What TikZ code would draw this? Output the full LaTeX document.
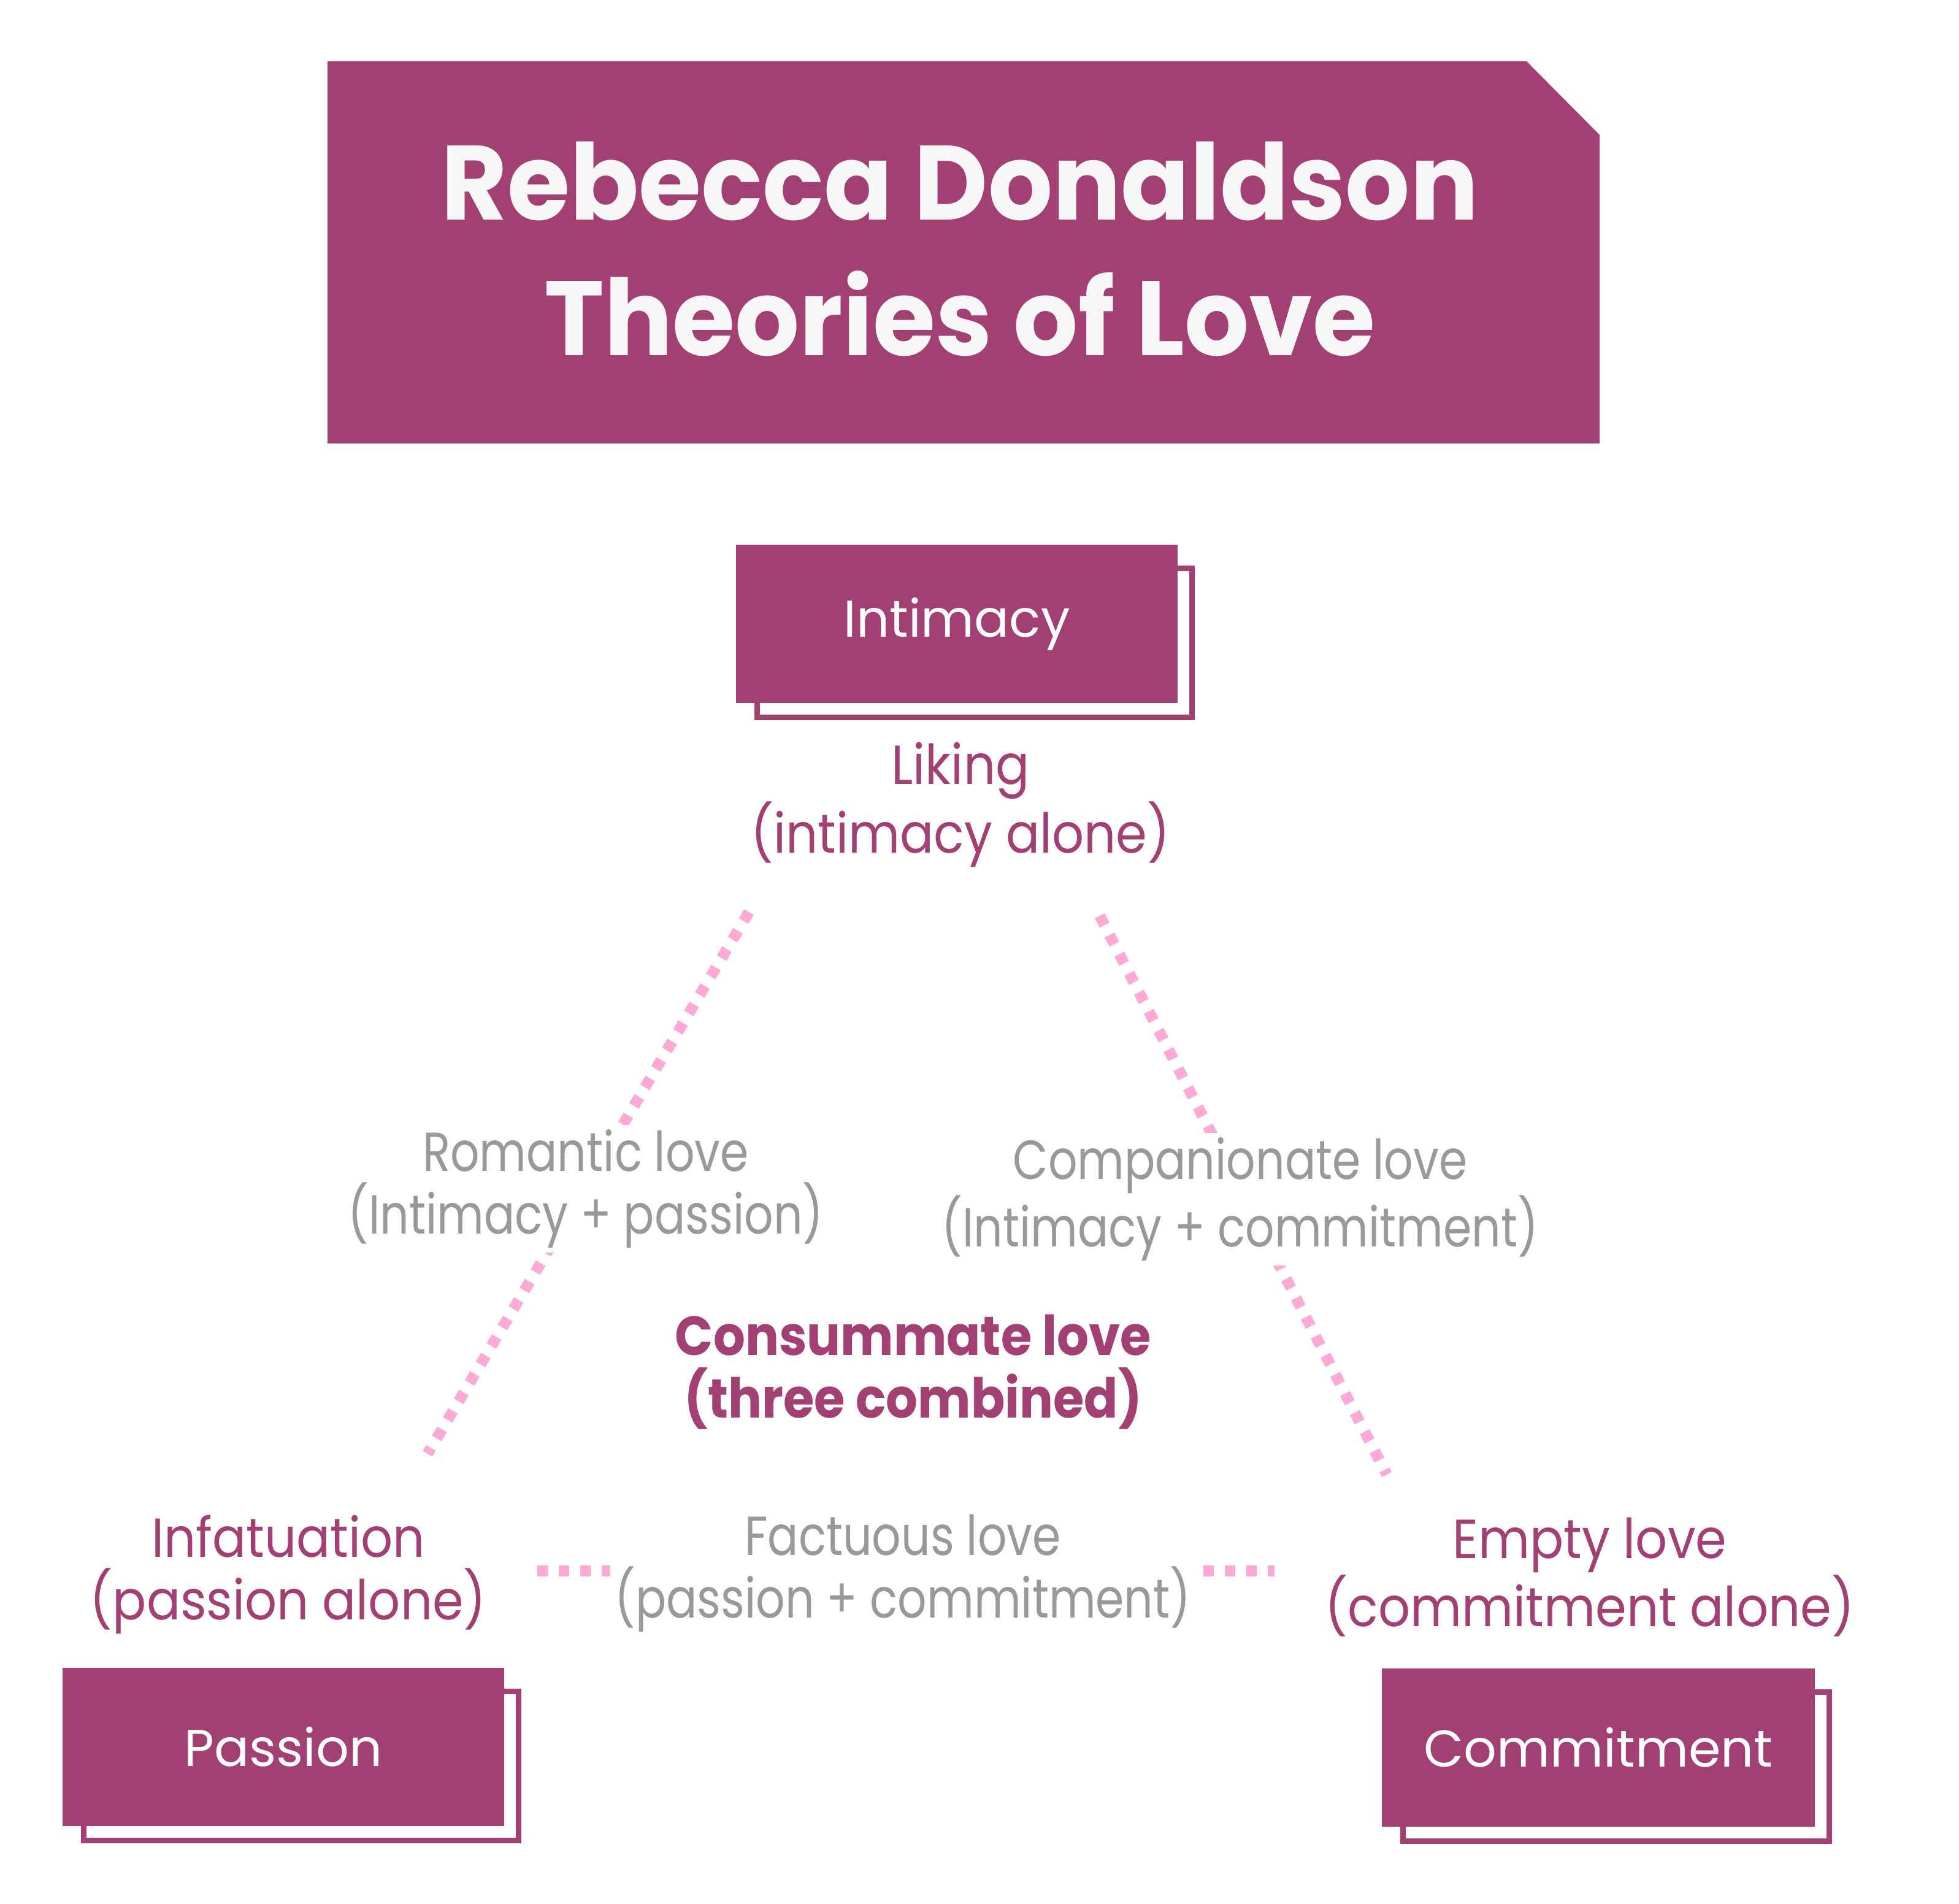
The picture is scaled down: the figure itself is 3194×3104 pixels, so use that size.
\documentclass[tikz,border=0pt]{standalone}
\usepackage{fontspec}
\setmainfont{Poppins}
\newfontfamily\headfamily[FakeStretch=0.96]{Poppins}
\newfontfamily\plumfamily[FakeStretch=0.91]{Poppins}
\newfontfamily\grayfamily[FakeStretch=0.83]{Poppins}
\definecolor{plum}{HTML}{A34073}
\definecolor{dotpink}{HTML}{FFAAD6}
\definecolor{mixgray}{HTML}{999999}
\definecolor{offwhite}{HTML}{F7F7F7}
\newcommand\headfont{\headfamily\bfseries\fontsize{49}{63}\selectfont}
\newcommand\tagfont{\fontsize{24}{28}\selectfont}
\newcommand\lovefont{\plumfamily\fontsize{25.5}{29}\selectfont}
\newcommand\mixfont{\grayfamily\fontsize{25.5}{29}\selectfont}
\tikzset{
  corebox/.style={fill=plum, text=white, font=\tagfont, minimum width=7.19cm, minimum height=2.57cm},
  backbox/.style={draw=plum, fill=white, line width=0.09cm, minimum width=7.08cm, minimum height=2.43cm},
  lovetype/.style={text=plum, align=center, font=\lovefont},
  mixtype/.style={text=mixgray, align=center, font=\mixfont, fill=white, inner sep=0.07cm},
  dots/.style={dotpink, line width=0.18cm, dash pattern=on 0.17cm off 0.18cm}
}
\begin{document}
\begin{tikzpicture}[x=0.01cm, y=-0.01cm]
    \tikzstyle{every node}+=[inner sep=0pt]
    \useasboundingbox (0,0) rectangle (3194,3104);
    % banner
    \fill [plum] (534,100) -- (2489,100) -- (2608,220) -- (2608,723) -- (534,723) -- cycle;
    \node (title) at (1565,406) [text=offwhite, font=\headfont, align=center] {Rebecca Donaldson\\Theories of Love};
    % the three components
    \node (intimacy back) at (1589,1048) [backbox] {};
    \node (intimacy) at (1560,1017) [corebox] {Intimacy};
    \node (passion back) at (491,2879) [backbox] {};
    \node (passion) at (462,2848) [corebox] {Passion};
    \node (commitment back) at (2635,2880) [backbox, minimum width=6.94cm] {};
    \node (commitment) at (2606,2849) [corebox, minimum width=7.05cm] {Commitment};
    % kinds of love
    \node (liking) at (1566,1312) [lovetype] {Liking\\(intimacy alone)};
    \node (infatuation) at (470,2567) [lovetype] {Infatuation\\(passion alone)};
    \node (empty) at (2592,2571) [lovetype] {Empty love\\(commitment alone)};
    \node (consummate) at (1489,2237) [lovetype, font=\lovefont\bfseries] {Consummate love\\(three combined)};
    % dotted sides
    \coordinate (romantic a) at (1221,1487);
    \coordinate (romantic b) at (697,2370);
    \coordinate (companion a) at (1793,1493);
    \coordinate (companion b) at (2261,2404);
    \coordinate (factuous a) at (876,2561);
    \coordinate (factuous b) at (2078,2561);
    \draw [dots] (romantic a) -- (romantic b);
    \draw [dots] (companion a) -- (companion b);
    \draw [dots] (factuous a) -- (factuous b);
    \node (romantic) at (955,1938) [mixtype] {Romantic love\\(Intimacy + passion)};
    \node (companionate) at (2022,1955) [mixtype] {Companionate love\\(Intimacy + commitment)};
    \node (factuous) at (1472,2565) [mixtype] {Factuous love\\(passion + commitment)};
\end{tikzpicture}
\end{document}
